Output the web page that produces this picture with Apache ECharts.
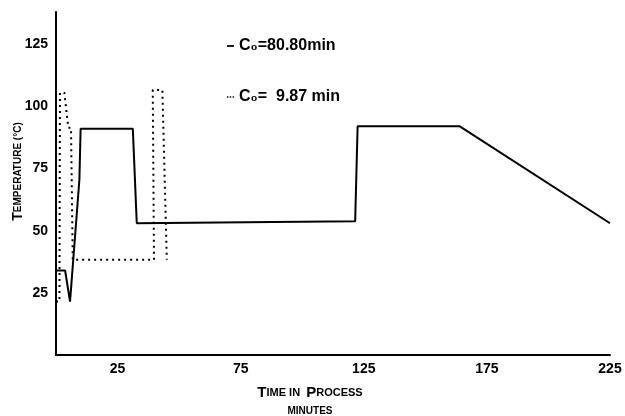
<!DOCTYPE html>
<html>
<head>
<meta charset="utf-8">
<script src="https://cdn.jsdelivr.net/npm/echarts@6/dist/echarts.min.js"></script>
<style>
  html, body { margin: 0; padding: 0; background: #fff; }
  #chart { width: 625px; height: 416px; }
</style>
</head>
<body>
<div id="chart"></div>
<script>
// solid curve, C0 = 80.80 min
const solidName = 'C₀=80.80min';
const solidTime = [0, 3.7, 5.7, 9.5, 10, 31.2, 32.8, 121.5, 122.5, 164, 225];
const solidTemp = [34, 34, 21.5, 70.5, 91, 91, 53, 53.8, 92, 92, 53];

// dotted curve, C0 = 9.87 min
const dottedName = 'C₀=  9.87 min';
const dottedTime = [0, 1.4, 1.6, 3.4, 5.0, 6.1, 6.8, 39.8, 39.3, 43.2, 45];
const dottedTemp = [21.5, 21.5, 105.5, 105.5, 91.4, 91.4, 38.3, 38.3, 106.6, 106.6, 38.3];

// tick labels actually printed on the axes
const xTickLabels = [25, 75, 125, 175, 225];
const yTickLabels = [25, 50, 75, 100, 125];

function pairs(xs, ys) {
    return xs.map((x, i) => [x, ys[i]]);
}

var dom = document.getElementById('chart');
var myChart = echarts.init(dom, null, { renderer: 'canvas' });

const font = 'Liberation Sans, Arial, sans-serif';

const option = {
    backgroundColor: '#fff',
    animation: false,
    grid: { left: 56, right: 15, top: 12, bottom: 61, containLabel: false, outerBoundsMode: 'none' },
    legend: {
        data: [
            { name: solidName, icon: 'path://M0,0h8v2h-8z' },
            { name: dottedName, icon: 'path://M0,0h2v2h-2zM4,0h2v2h-2zM8,0h2v2h-2z' }
        ],
        orient: 'vertical',
        left: 222,
        top: 33,
        itemGap: 35,
        itemWidth: 7,
        itemHeight: 2,
        itemStyle: { color: '#000' },
        textStyle: { color: '#000', fontSize: 16, fontFamily: font, fontWeight: 'bold' }
    },
    xAxis: {
        type: 'value',
        min: 0,
        max: 225,
        interval: 25,
        splitLine: { show: false },
        axisTick: { show: false },
        axisLine: { lineStyle: { color: '#000', width: 2 } },
        axisLabel: {
            color: '#000', fontSize: 14, fontWeight: 'bold', fontFamily: font, margin: 7,
            formatter: v => xTickLabels.includes(v) ? String(v) : ''
        },
        name: '{b|T}{s|IME IN  }{b|P}{s|ROCESS}\n{m|MINUTES}',
        nameLocation: 'middle',
        nameGap: 28,
        nameTextStyle: {
            padding: [0, 46, 0, 0],
            rich: {
                b: { fontSize: 15, fontWeight: 'bold', fontFamily: font, color: '#000', lineHeight: 20 },
                s: { fontSize: 11, fontWeight: 'bold', fontFamily: font, color: '#000', lineHeight: 20 },
                m: { fontSize: 10, fontWeight: 'bold', fontFamily: font, color: '#000', lineHeight: 16 }
            }
        }
    },
    yAxis: {
        type: 'value',
        min: 0,
        max: 138,
        interval: 25,
        splitLine: { show: false },
        axisTick: { show: false },
        axisLine: { show: true, lineStyle: { color: '#000', width: 2 } },
        axisLabel: {
            color: '#000', fontSize: 14, fontWeight: 'bold', fontFamily: font, margin: 8,
            formatter: v => yTickLabels.includes(v) ? String(v) : ''
        },
        name: '{b|T}{s|EMPERATURE (°C)}',
        nameLocation: 'middle',
        nameGap: 31,
        nameMoveOverlap: false,
        nameTextStyle: {
            padding: [0, 0, 0, 24],
            rich: {
                b: { fontSize: 14, fontWeight: 'bold', fontFamily: font, color: '#000' },
                s: { fontSize: 10, fontWeight: 'bold', fontFamily: font, color: '#000' }
            }
        }
    },
    series: [
        {
            name: solidName,
            type: 'line',
            data: pairs(solidTime, solidTemp),
            showSymbol: false,
            symbol: 'none',
            lineStyle: { color: '#000', width: 2 },
            itemStyle: { color: '#000' }
        },
        {
            name: dottedName,
            type: 'line',
            data: pairs(dottedTime, dottedTemp),
            showSymbol: false,
            symbol: 'none',
            lineStyle: { color: '#000', width: 2, type: [2, 4] },
            itemStyle: { color: '#000' }
        }
    ]
};
myChart.setOption(option);
</script>
</body>
</html>
